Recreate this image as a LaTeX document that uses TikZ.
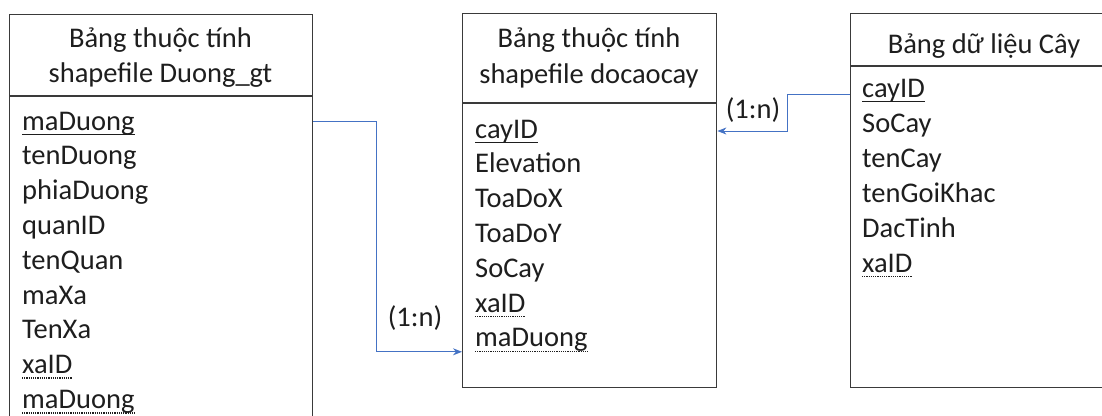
\documentclass[tikz,border=0pt]{standalone}
\usepackage{fontspec}
\setmainfont{Carlito}
\usetikzlibrary{arrows.meta,calc}
\definecolor{boxc}{HTML}{3A3A3A}
\definecolor{txt}{HTML}{1E1E1E}
\definecolor{linkc}{HTML}{4472C4}
\newcommand\pkline[1]{\draw[line width=1.3pt, draw=txt] ([yshift=-4.5pt]#1.base west) -- ([yshift=-4.5pt]#1.base east);}
\newcommand\fkline[1]{\draw[line width=1.3pt, draw=txt, dash pattern=on 1.1pt off 1.1pt] ([yshift=-4.5pt]#1.base west) -- ([yshift=-4.5pt]#1.base east);}
\begin{document}
\begin{tikzpicture}[x=1pt,y=-1pt,
  box/.style={draw=boxc, line width=1.4pt, inner sep=0pt, anchor=north west},
  fld/.style={anchor=base west, inner sep=0pt, font=\fontsize{28.5}{35}\selectfont, text=txt},
  hdr/.style={anchor=base, inner sep=0pt, font=\fontsize{28.5}{35}\selectfont, text=txt},
  lbl/.style={inner sep=0pt, font=\fontsize{28.5}{35}\selectfont, text=txt},
  link/.style={draw=linkc, line width=1pt, -{Stealth[length=9pt,width=7pt]}},
  divider/.style={draw=boxc, line width=1.4pt}
]
\useasboundingbox (0,0) rectangle (1102,415);
\clip (0,0) rectangle (1102,415);
\fill[white] (0,0) rectangle (1102,415);

% boxes
\node[box, minimum width=303pt, minimum height=430pt] (L) at (9,14) {};
\node[box, minimum width=254pt, minimum height=374pt] (M) at (462,13) {};
\node[box, minimum width=270pt, minimum height=374pt] (R) at (850,13) {};
\draw[divider] (L.west |- 0,96) -- (L.east |- 0,96);
\draw[divider] (M.west |- 0,103) -- (M.east |- 0,103);
\draw[divider] (R.west |- 0,66) -- (R.east |- 0,66);

% headers
\node[hdr] (Lh1) at (160.5,47) {Bảng thuộc tính};
\node[hdr] (Lh2) at (160.5,82) {shapefile Duong\_gt};
\node[hdr] (Mh1) at (589,47) {Bảng thuộc tính};
\node[hdr] (Mh2) at (589,83) {shapefile docaocay};
\node[hdr] (Rh1) at (984,53) {Bảng dữ liệu Cây};

% left fields
\node[fld] (Lf1) at (22,130) {maDuong};
\node[fld] (Lf2) at (22,164.8) {tenDuong};
\node[fld] (Lf3) at (22,199.6) {phiaDuong};
\node[fld] (Lf4) at (22,234.4) {quanID};
\node[fld] (Lf5) at (22,269.2) {tenQuan};
\node[fld] (Lf6) at (22,304) {maXa};
\node[fld] (Lf7) at (22,338.8) {TenXa};
\node[fld] (Lf8) at (22,373.6) {xaID};
\node[fld] (Lf9) at (22,408.4) {maDuong};
\pkline{Lf1}
\fkline{Lf8}
\fkline{Lf9}

% middle fields
\node[fld] (Mf1) at (475,138) {cayID};
\node[fld] (Mf2) at (475,172.8) {Elevation};
\node[fld] (Mf3) at (475,207.6) {ToaDoX};
\node[fld] (Mf4) at (475,242.4) {ToaDoY};
\node[fld] (Mf5) at (475,277.2) {SoCay};
\node[fld] (Mf6) at (475,312) {xaID};
\node[fld] (Mf7) at (475,346.8) {maDuong};
\pkline{Mf1}
\fkline{Mf6}
\fkline{Mf7}

% right fields
\node[fld] (Rf1) at (862,97) {cayID};
\node[fld] (Rf2) at (862,132) {SoCay};
\node[fld] (Rf3) at (862,167) {tenCay};
\node[fld] (Rf4) at (862,202) {tenGoiKhac};
\node[fld] (Rf5) at (862,237) {DacTinh};
\node[fld] (Rf6) at (862,272) {xaID};
\pkline{Rf1}
\fkline{Rf6}

% connectors
\coordinate (a1) at ($(L.east |- Lf1.base)+(0,-9)$);
\coordinate (a2) at ($(M.west |- Mf7.base)+(0,5)$);
\draw[link] (a1) -- (a1 -| 376,0) -- (376,0 |- a2) -- (a2);
\node[lbl] (n1) at (415,318) {(1:n)};

\coordinate (b1) at ($(R.west |- Rf1.base)+(0,-3)$);
\coordinate (b2) at ($(M.east |- Mf1.base)+(0,-7)$);
\draw[link] (b1) -- (b1 -| 787,0) -- (787,0 |- b2) -- (b2);
\node[lbl] (n2) at (753,110) {(1:n)};
\end{tikzpicture}
\end{document}
